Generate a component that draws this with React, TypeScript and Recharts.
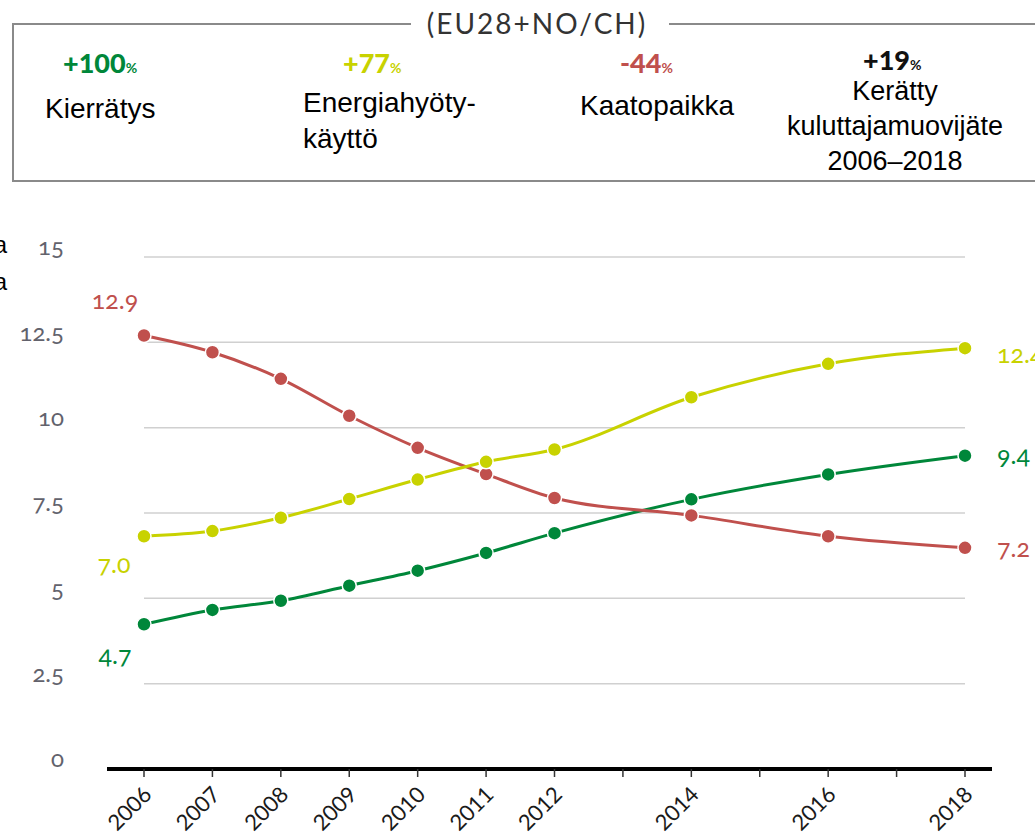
import React from 'react';
import { LineChart, Line, XAxis, YAxis, ReferenceLine } from 'recharts';

// ---------- data ----------
const years = [2006, 2007, 2008, 2009, 2010, 2011, 2012, 2014, 2016, 2018];
const recycling = [4.24, 4.66, 4.93, 5.37, 5.81, 6.33, 6.91, 7.9, 8.63, 9.18];
const energyRecovery = [6.82, 6.97, 7.36, 7.91, 8.48, 9.0, 9.36, 10.89, 11.87, 12.33];
const landfill = [12.7, 12.21, 11.43, 10.35, 9.41, 8.64, 7.94, 7.43, 6.82, 6.48];

const xTicks = [2006, 2007, 2008, 2009, 2010, 2011, 2012, 2013, 2014, 2015, 2016, 2017, 2018];
const xTickLabels = ['2006', '2007', '2008', '2009', '2010', '2011', '2012', '', '2014', '', '2016', '', '2018'];
const yTicks = [0, 2.5, 5, 7.5, 10, 12.5, 15];
const yTickLabels = ['0', '2.5', '5', '7.5', '10', '12.5', '15'];
const gridValues = [2.5, 5, 7.5, 10, 12.5, 15];

const recyclingEndLabels = ['4.7', '9.4'];
const energyEndLabels = ['7.0', '12.4'];
const landfillEndLabels = ['12.9', '7.2'];

const title = '(EU28+NO/CH)';
const legendChanges = ['+100', '+77', '-44', '+19'];
const legendNames = [
  ['Kierrätys'],
  ['Energiahyöty-', 'käyttö'],
  ['Kaatopaikka'],
  ['Kerätty', 'kuluttajamuovijäte', '2006–2018'],
];

// ---------- styles ----------
const GREEN = '#00873A';
const YELLOW = '#C8D200';
const RED = '#C0504D';
const NUM_FONT = 'Lato, "Open Sans", sans-serif';
const ARIAL = '"Liberation Sans", Arial, sans-serif';

const rows = years.map((year, i) => ({
  year,
  recycling: recycling[i],
  energy: energyRecovery[i],
  landfill: landfill[i],
}));

const XTick = (props: any) => {
  const { x, y, payload } = props;
  const idx = xTicks.indexOf(payload.value);
  const label = xTickLabels[idx];
  if (!label) return <g />;
  const ax = x + 9;
  const ay = y + 17;
  return (
    <text
      x={ax}
      y={ay}
      transform={`rotate(-45, ${ax}, ${ay})`}
      textAnchor="end"
      fontSize={22}
      fontFamily={NUM_FONT}
      fill="#1a1a1a"
    >
      {label}
    </text>
  );
};

const YTick = (props: any) => {
  const { x, y, payload } = props;
  const idx = yTicks.indexOf(payload.value);
  return (
    <text
      x={x}
      y={y - 10}
      dy="0.35em"
      textAnchor="end"
      fontSize={24}
      fontFamily={NUM_FONT}
      fill="#62626c"
      style={{ fontVariantNumeric: 'oldstyle-nums' }}
    >
      {yTickLabels[idx]}
    </text>
  );
};

const makeDot = (
  color: string,
  labels: string[],
  startOff: [number, number],
  endOff: [number, number]
) => (props: any) => {
  const { cx, cy, index } = props;
  if (cx == null || cy == null) return <g key={`e-${index}`} />;
  const last = years.length - 1;
  return (
    <g key={`d-${color}-${index}`}>
      <circle cx={cx} cy={cy} r={7} fill={color} stroke="#ffffff" strokeWidth={1.5} />
      {index === 0 && (
        <text
          x={cx + startOff[0]}
          y={cy + startOff[1]}
          dy="0.35em"
          textAnchor="middle"
          fontSize={25}
          fontFamily={NUM_FONT}
          fill={color}
          style={{ fontVariantNumeric: 'oldstyle-nums' }}
        >
          {labels[0]}
        </text>
      )}
      {index === last && (
        <text
          x={cx + endOff[0]}
          y={cy + endOff[1]}
          dy="0.35em"
          textAnchor="start"
          fontSize={25}
          fontFamily={NUM_FONT}
          fill={color}
          style={{ fontVariantNumeric: 'oldstyle-nums' }}
        >
          {labels[1]}
        </text>
      )}
    </g>
  );
};

const Header = () => {
  const pctX = [63, 343, 620, 863];
  const pctY = [73, 73, 73, 70];
  const pctColors = [GREEN, YELLOW, RED, '#111111'];
  return (
    <svg
      width={1035}
      height={300}
      style={{ position: 'absolute', left: 0, top: 0, pointerEvents: 'none' }}
    >
      <line x1={13} y1={24} x2={411} y2={24} stroke="#8a8a8a" strokeWidth={2} />
      <line x1={669} y1={24} x2={1035} y2={24} stroke="#8a8a8a" strokeWidth={2} />
      <line x1={13} y1={23} x2={13} y2={182} stroke="#8a8a8a" strokeWidth={2} />
      <line x1={12} y1={181} x2={1035} y2={181} stroke="#8a8a8a" strokeWidth={2} />
      <text
        x={537}
        y={34}
        textAnchor="middle"
        fontSize={28}
        letterSpacing={2}
        fontFamily={NUM_FONT}
        fill="#333333"
      >
        {title}
      </text>
      {legendChanges.map((c, i) => (
        <text
          key={`p-${i}`}
          x={pctX[i]}
          y={pctY[i]}
          fontFamily={NUM_FONT}
          fill={pctColors[i]}
          fontWeight={900}
        >
          <tspan fontSize={27}>{c}</tspan>
          <tspan fontSize={14} fontWeight={700}>%</tspan>
        </text>
      ))}
      <text x={45} y={118} fontSize={28} fontFamily={ARIAL} fill="#000">
        {legendNames[0][0]}
      </text>
      <text x={303} y={112} fontSize={28} fontFamily={ARIAL} fill="#000">
        {legendNames[1][0]}
      </text>
      <text x={303} y={148} fontSize={28} fontFamily={ARIAL} fill="#000">
        {legendNames[1][1]}
      </text>
      <text x={580} y={115} fontSize={28} fontFamily={ARIAL} fill="#000">
        {legendNames[2][0]}
      </text>
      {legendNames[3].map((t, i) => (
        <text
          key={`k-${i}`}
          x={895}
          y={100 + i * 35}
          textAnchor="middle"
          fontSize={27}
          fontFamily={ARIAL}
          fill="#000"
        >
          {t}
        </text>
      ))}
      <text x={7} y={253} textAnchor="end" fontSize={24} fontFamily={ARIAL} fill="#000">a</text>
      <text x={7} y={290} textAnchor="end" fontSize={24} fontFamily={ARIAL} fill="#000">a</text>
    </svg>
  );
};

export default function App() {
  return (
    <div
      style={{
        position: 'absolute',
        left: 0,
        top: 0,
        width: 1035,
        height: 835,
        overflow: 'hidden',
        background: '#ffffff',
      }}
    >
      <LineChart
        width={1035}
        height={835}
        data={rows}
        margin={{ top: 257, right: 43, bottom: 0, left: 0 }}
      >
        <XAxis
          dataKey="year"
          type="number"
          domain={[2006, 2018]}
          ticks={xTicks}
          interval={0}
          padding={{ left: 37, right: 27 }}
          axisLine={{ stroke: '#000000', strokeWidth: 4 }}
          tickLine={{ stroke: '#333333', strokeWidth: 1.5 }}
          tickSize={8}
          tickMargin={2}
          height={66}
          tick={<XTick />}
        />
        <YAxis
          type="number"
          domain={[0, 15]}
          ticks={yTicks}
          interval={0}
          width={107}
          axisLine={false}
          tickLine={false}
          tickSize={0}
          tickMargin={43}
          tick={<YTick />}
        />
        {gridValues.map((v) => (
          <ReferenceLine
            key={`g-${v}`}
            segment={[
              { x: 2006, y: v },
              { x: 2018, y: v },
            ]}
            stroke="#d0d0d0"
            strokeWidth={1.5}
          />
        ))}
        <Line
          dataKey="recycling"
          type="monotone"
          stroke={GREEN}
          strokeWidth={3}
          dot={makeDot(GREEN, recyclingEndLabels, [-29, 31], [32, 0])}
          activeDot={false}
          isAnimationActive={false}
        />
        <Line
          dataKey="landfill"
          type="monotone"
          stroke={RED}
          strokeWidth={3}
          dot={makeDot(RED, landfillEndLabels, [-29, -35], [32, 0])}
          activeDot={false}
          isAnimationActive={false}
        />
        <Line
          dataKey="energy"
          type="monotone"
          stroke={YELLOW}
          strokeWidth={3}
          dot={makeDot(YELLOW, energyEndLabels, [-30, 28], [32, 6])}
          activeDot={false}
          isAnimationActive={false}
        />
      </LineChart>
      <Header />
    </div>
  );
}
